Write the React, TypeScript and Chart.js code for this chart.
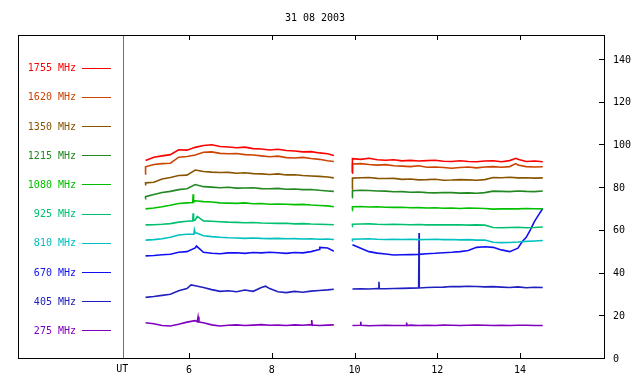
import { useEffect, useRef } from 'react';
import { Chart, registerables } from 'chart.js';

Chart.register(...registerables);

const chartTitle = '31 08 2003';
const utLabel = 'UT';
const utPosition = 4.41;
const xTickValues = [6, 8, 10, 12, 14];
const yTickValues = [0, 20, 40, 60, 80, 100, 120, 140];
const xMin = 1.867;
const xMax = 16.03;
const yMin = 0;
const yMax = 151.2;

const frequencies = ['1755 MHz', '1620 MHz', '1350 MHz', '1215 MHz', '1080 MHz', '925 MHz', '810 MHz', '670 MHz', '405 MHz', '275 MHz'];
const colors = ['#ff0000', '#cc4400', '#885500', '#228822', '#00c000', '#00c070', '#00c0c0', '#1010f0', '#2020c0', '#8000c0'];

const timesA = [4.95, 5.15, 5.35, 5.55, 5.75, 5.95, 6.15, 6.35, 6.55, 6.75, 6.95, 7.15, 7.35, 7.55, 7.75, 7.95, 8.15, 8.35, 8.55, 8.75, 8.95, 9.15, 9.35, 9.5];
const timesB = [9.95, 10.15, 10.35, 10.55, 10.75, 10.95, 11.15, 11.35, 11.55, 11.75, 11.95, 12.15, 12.35, 12.55, 12.75, 12.95, 13.15, 13.35, 13.55, 13.75, 13.95, 14.15, 14.35, 14.55];
const gapTime = 9.72;

const f1755A = [92.5, 94.0, 94.6, 95.2, 97.5, 97.3, 98.6, 99.5, 99.8, 99.0, 98.8, 98.4, 98.7, 98.0, 97.8, 97.4, 97.7, 97.1, 96.9, 96.5, 96.6, 96.0, 95.6, 94.8];
const f1755B = [93.3, 93.0, 93.5, 92.8, 92.6, 92.8, 92.3, 92.5, 92.2, 92.4, 92.6, 92.1, 92.0, 92.3, 92.0, 91.9, 92.2, 92.3, 91.9, 92.4, 93.0, 92.0, 92.2, 91.9];
const f1620A = [89.5, 90.6, 91.0, 91.2, 94.0, 94.3, 95.0, 96.3, 96.5, 95.8, 95.6, 95.7, 95.2, 95.0, 94.6, 94.2, 94.5, 93.8, 93.6, 93.9, 93.4, 93.0, 92.3, 92.0];
const f1620B = [90.8, 91.0, 90.6, 90.3, 90.5, 90.0, 89.8, 89.6, 90.0, 89.3, 89.4, 89.2, 88.8, 89.2, 89.4, 89.0, 89.4, 89.6, 89.3, 89.6, 90.3, 89.6, 89.4, 89.5];
const f1350A = [82.0, 82.3, 83.8, 84.5, 85.4, 85.6, 88.0, 87.3, 87.0, 86.8, 86.9, 86.5, 86.7, 86.3, 86.2, 85.9, 86.2, 85.7, 85.8, 85.4, 85.2, 85.0, 84.7, 84.3];
const f1350B = [84.2, 84.4, 84.5, 84.1, 84.0, 84.1, 83.6, 83.8, 83.4, 83.5, 83.7, 83.2, 83.3, 83.5, 83.4, 83.2, 83.5, 84.5, 84.4, 84.6, 84.3, 84.4, 84.2, 84.3];
const f1215A = [75.5, 76.5, 77.5, 78.0, 78.8, 79.2, 81.2, 80.2, 80.0, 79.7, 79.9, 79.5, 79.6, 79.7, 79.3, 79.2, 79.4, 79.0, 79.1, 78.8, 78.9, 78.5, 78.2, 78.0];
const f1215B = [78.3, 78.5, 78.4, 78.2, 78.1, 77.8, 77.9, 77.6, 77.7, 77.4, 77.3, 77.5, 77.4, 77.2, 77.3, 77.1, 77.4, 78.1, 78.0, 77.9, 78.2, 78.0, 77.9, 78.2];
const f1080A = [69.8, 70.2, 70.8, 71.5, 72.3, 72.6, 73.6, 73.2, 73.0, 72.6, 72.5, 72.4, 72.6, 72.2, 72.3, 72.0, 72.1, 72.0, 71.8, 71.9, 71.6, 71.4, 71.2, 70.8];
const f1080B = [70.8, 70.9, 70.7, 70.8, 70.6, 70.5, 70.6, 70.3, 70.4, 70.2, 70.3, 70.1, 70.2, 70.0, 70.2, 70.1, 70.0, 69.7, 69.8, 69.9, 69.8, 70.0, 69.9, 69.8];
const f925A = [62.3, 62.4, 62.6, 62.9, 63.6, 64.0, 64.6, 64.2, 64.0, 63.8, 63.6, 63.5, 63.3, 63.4, 63.2, 63.1, 63.0, 63.1, 62.8, 62.9, 62.7, 62.6, 62.5, 62.4];
const f925B = [62.6, 62.7, 62.8, 62.6, 62.5, 62.6, 62.5, 62.4, 62.5, 62.3, 62.4, 62.3, 62.3, 62.4, 62.2, 62.3, 62.2, 61.1, 61.0, 61.1, 61.2, 61.0, 61.1, 61.3];
const f810A = [55.2, 55.4, 55.8, 56.5, 57.6, 57.9, 58.6, 57.2, 56.8, 56.5, 56.3, 56.2, 56.0, 56.2, 56.0, 55.9, 56.0, 55.8, 55.9, 55.7, 55.8, 55.6, 55.7, 55.5];
const f810B = [55.6, 55.7, 55.8, 55.6, 55.5, 55.6, 55.5, 55.6, 55.4, 55.5, 55.6, 55.4, 55.5, 55.3, 55.4, 55.2, 55.2, 54.2, 54.0, 54.1, 54.3, 54.6, 54.8, 55.0];
const f670A = [47.8, 48.0, 48.3, 48.6, 49.5, 49.8, 51.5, 49.5, 49.0, 48.8, 49.2, 49.3, 49.0, 49.4, 49.2, 49.5, 49.3, 49.0, 49.4, 49.2, 49.8, 50.8, 51.5, 50.0];
const f670B = [53.0, 51.4, 49.8, 49.1, 48.7, 48.2, 48.3, 48.4, 48.5, 48.8, 49.0, 49.3, 49.5, 49.8, 50.3, 51.8, 52.1, 51.8, 50.6, 49.8, 51.4, 56.5, 64.0, 70.0];
const f405A = [28.4, 28.8, 29.3, 29.8, 31.5, 32.5, 33.8, 33.0, 32.0, 31.2, 31.5, 31.0, 31.8, 31.2, 33.0, 32.5, 31.0, 30.6, 31.2, 30.8, 31.3, 31.6, 31.9, 32.2];
const f405B = [32.3, 32.4, 32.3, 32.5, 32.4, 32.5, 32.6, 32.7, 32.8, 33.0, 33.1, 33.2, 33.5, 33.4, 33.6, 33.5, 33.3, 33.4, 33.2, 33.0, 33.3, 32.9, 33.1, 33.0];
const f275A = [16.5, 16.0, 15.2, 15.0, 15.8, 16.8, 17.5, 16.5, 15.5, 15.0, 15.3, 15.5, 15.2, 15.4, 15.6, 15.3, 15.4, 15.2, 15.5, 15.3, 15.6, 15.2, 15.4, 15.5];
const f275B = [15.2, 15.3, 15.1, 15.2, 15.3, 15.2, 15.2, 15.4, 15.2, 15.3, 15.2, 15.4, 15.3, 15.2, 15.3, 15.4, 15.3, 15.2, 15.3, 15.2, 15.3, 15.3, 15.2, 15.2];

// extra samples: start transients, spikes, rise detail  [time, value]
const extra1755 = [[9.945, 86.5], [13.9, 93.5]];
const extra1620 = [[4.945, 86.0], [9.945, 87.0], [13.9, 91.0]];
const extra1350 = [[4.945, 81.0], [9.945, 79.0]];
const extra1215 = [[4.945, 74.5], [9.945, 75.0]];
const extra1080 = [[6.09, 72.8], [6.1, 76.6], [6.11, 73.0], [9.945, 69.0]];
const extra925 = [[6.09, 64.2], [6.1, 67.7], [6.11, 64.3], [6.2, 66.3], [9.945, 61.5]];
const extra810 = [[6.12, 58.0], [6.13, 60.0], [6.2, 58.4], [9.945, 54.8]];
const extra670 = [[6.18, 52.4], [9.16, 51.8], [14.05, 54.4], [14.25, 60.0], [14.45, 67.0]];
const extra405 = [[6.05, 34.2], [7.85, 33.6], [10.585, 32.4], [10.59, 35.7], [10.6, 32.5], [11.555, 32.8], [11.56, 58.5], [11.565, 32.8]];
const extra275 = [[6.2, 17.0], [6.22, 19.3], [6.24, 16.8], [8.96, 15.4], [8.97, 17.8], [8.98, 15.4], [10.14, 15.3], [10.15, 17.0], [10.16, 15.3], [11.25, 15.2], [11.26, 16.6], [11.27, 15.2]];

const seriesA = [f1755A, f1620A, f1350A, f1215A, f1080A, f925A, f810A, f670A, f405A, f275A];
const seriesB = [f1755B, f1620B, f1350B, f1215B, f1080B, f925B, f810B, f670B, f405B, f275B];
const extras = [extra1755, extra1620, extra1350, extra1215, extra1080, extra925, extra810, extra670, extra405, extra275];

function buildPoints(i: number) {
  const pts: { x: number; y: number | null }[] = [];
  timesA.forEach((t, k) => pts.push({ x: t, y: seriesA[i][k] }));
  timesB.forEach((t, k) => pts.push({ x: t, y: seriesB[i][k] }));
  extras[i].forEach(([t, v]) => pts.push({ x: t, y: v }));
  pts.push({ x: gapTime, y: null });
  pts.sort((a, b) => a.x - b.x);
  return pts;
}

const FONT = '10px "DejaVu Sans Mono", "Liberation Mono", monospace';

const framePlugin = {
  id: 'frame',
  afterDraw(chart: any) {
    const { ctx, chartArea: a, scales } = chart;
    const xs = scales.x;
    const ys = scales.y;
    ctx.save();
    ctx.lineWidth = 1;
    // separator line
    const sx = Math.round(xs.getPixelForValue(utPosition)) + 0.5;
    ctx.strokeStyle = '#707070';
    ctx.beginPath();
    ctx.moveTo(sx, a.top);
    ctx.lineTo(sx, a.bottom);
    ctx.stroke();
    // box
    ctx.strokeStyle = '#000000';
    ctx.strokeRect(Math.round(a.left) + 0.5, Math.round(a.top) + 0.5, Math.round(a.right - a.left), Math.round(a.bottom - a.top));
    // x ticks
    ctx.beginPath();
    xTickValues.forEach((v) => {
      const px = Math.round(xs.getPixelForValue(v)) + 0.5;
      ctx.moveTo(px, a.bottom);
      ctx.lineTo(px, a.bottom - 5);
      ctx.moveTo(px, a.top);
      ctx.lineTo(px, a.top + 5);
    });
    yTickValues.forEach((v) => {
      const py = Math.round(ys.getPixelForValue(v)) + 0.5;
      ctx.moveTo(a.right, py);
      ctx.lineTo(a.right - 5, py);
    });
    ctx.stroke();
    // labels
    ctx.font = FONT;
    ctx.fillStyle = '#000000';
    ctx.textAlign = 'center';
    ctx.textBaseline = 'middle';
    xTickValues.forEach((v) => {
      ctx.fillText(String(v), xs.getPixelForValue(v), a.bottom + 12);
    });
    ctx.fillText(utLabel, xs.getPixelForValue(utPosition) - 1, a.bottom + 11);
    ctx.textAlign = 'left';
    yTickValues.forEach((v) => {
      ctx.fillText(String(v), a.right + 9, ys.getPixelForValue(v) + 1);
    });
    // title
    ctx.textAlign = 'center';
    ctx.fillText(chartTitle, (a.left + a.right) / 2 + 4, 18);
    // legend
    frequencies.forEach((label, i) => {
      const ly = 67.7 + i * 29.18;
      ctx.fillStyle = colors[i];
      ctx.textAlign = 'right';
      ctx.fillText(label, 76, ly + 1);
      ctx.strokeStyle = colors[i];
      ctx.beginPath();
      ctx.moveTo(82, Math.round(ly) + 0.5);
      ctx.lineTo(111, Math.round(ly) + 0.5);
      ctx.stroke();
    });
    ctx.restore();
  },
};

export default function App() {
  const ref = useRef<HTMLCanvasElement | null>(null);
  useEffect(() => {
    document.body.style.margin = '0';
    if (!ref.current) return;
    const chart = new Chart(ref.current, {
      type: 'line',
      data: {
        datasets: frequencies.map((label, i) => ({
          label,
          data: buildPoints(i),
          borderColor: colors[i],
          backgroundColor: colors[i],
          borderWidth: 1.6,
          pointRadius: 0,
          tension: 0,
          spanGaps: false,
        })),
      },
      options: {
        animation: false,
        responsive: false,
        maintainAspectRatio: false,
        parsing: true,
        layout: { padding: { left: 18, right: 36, top: 35, bottom: 26 } },
        plugins: { legend: { display: false }, title: { display: false }, tooltip: { enabled: false } },
        scales: {
          x: { type: 'linear', min: xMin, max: xMax, display: false },
          y: { type: 'linear', min: yMin, max: yMax, display: false },
        },
      },
      plugins: [framePlugin],
    });
    return () => chart.destroy();
  }, []);
  return (
    <div style={{ position: 'absolute', left: 0, top: 0, width: 640, height: 384, background: '#fff' }}>
      <canvas ref={ref} width={640} height={384} style={{ display: 'block', width: 640, height: 384 }} />
    </div>
  );
}
